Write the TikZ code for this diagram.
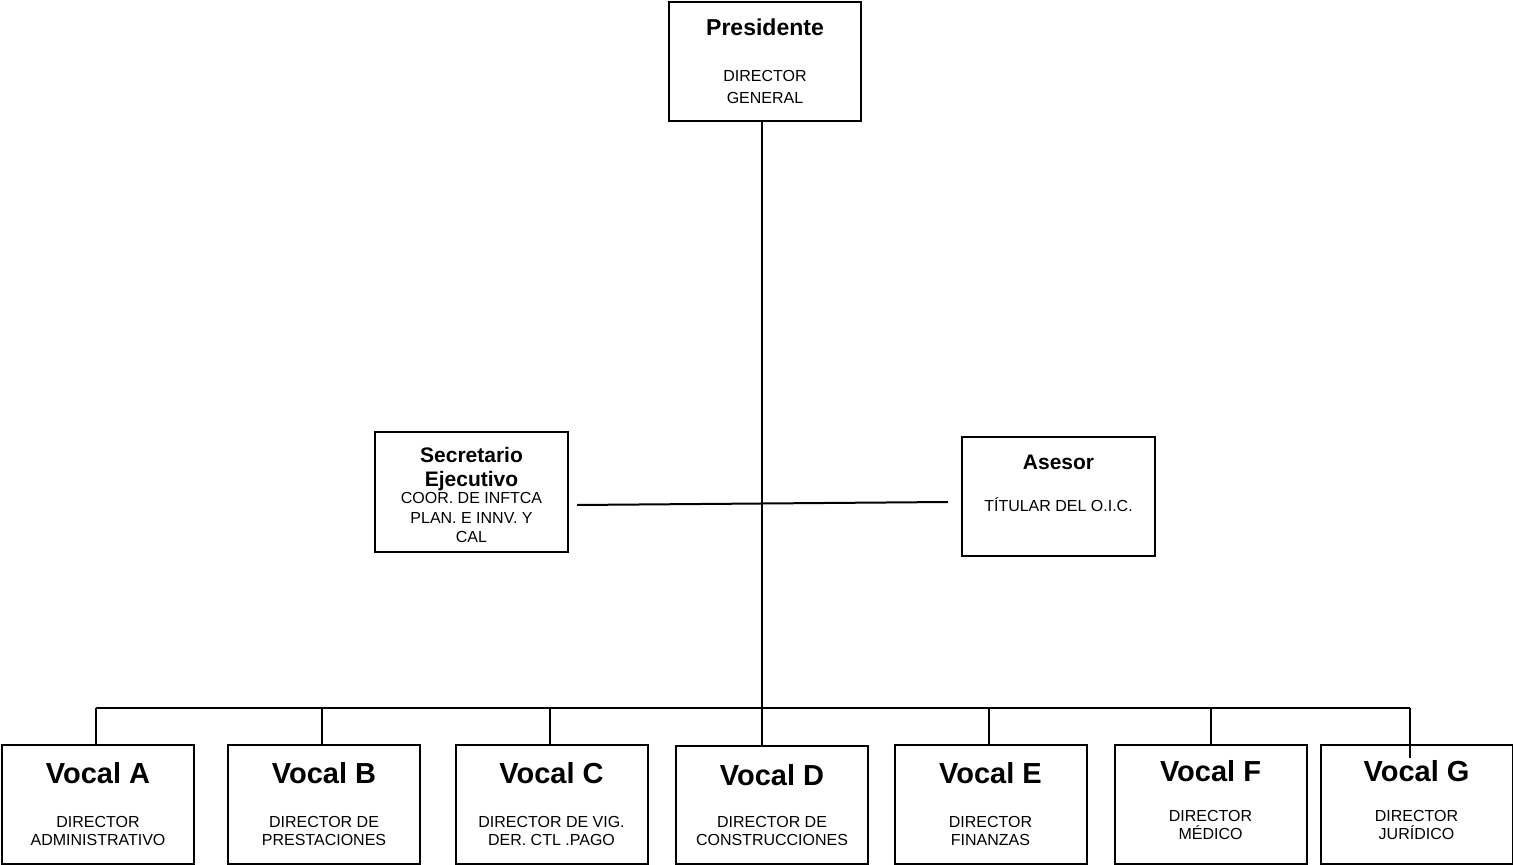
\documentclass[tikz,border=0pt]{standalone}
\usepackage{fontspec}
\setmainfont{Liberation Sans}
\usetikzlibrary{positioning}

\newcommand{\vfont}{\fontsize{14.5}{16}\selectfont\bfseries}
\newcommand{\bfont}{\fontsize{10.5}{11.5}\selectfont\bfseries}

\begin{document}
\begin{tikzpicture}[x=0.5pt, y=-0.5pt,
    orgbox/.style={rectangle, draw, line width=1pt, inner sep=0pt, align=center, font=\fontsize{8}{9}\selectfont},
    vocal/.style={orgbox, minimum width=96pt, minimum height=59.5pt},
    conn/.style={line width=1pt}]
  \useasboundingbox (0,0) rectangle (1513,865);

  \node[orgbox, minimum width=96pt, minimum height=59.5pt, font=\fontsize{8}{11}\selectfont] (pres) at (765,61.5)
    {{\fontsize{11.5}{13}\selectfont\bfseries Presidente}\\[12pt] DIRECTOR\\ GENERAL};
  \node[orgbox, minimum width=96.5pt, minimum height=60pt, font=\fontsize{8}{9.75}\selectfont] (secr) at (471.5,492)
    {{\bfont\rule{0pt}{11pt}Secretario}\\[2pt] {\bfont Ejecutivo}\\[-1pt] COOR. DE INFTCA\\ PLAN. E INNV. Y\\ CAL};
  \node[orgbox, minimum width=96.5pt, minimum height=59.5pt] (ases) at (1058.5,496.5)
    {{\bfont Asesor}\\[12pt] TÍTULAR DEL O.I.C.\\[4pt] \mbox{}};

  \node[vocal] (vA) at (98,804.5) {{\vfont Vocal A}\\[13pt] DIRECTOR\\ ADMINISTRATIVO};
  \node[vocal] (vB) at (324,804.5) {{\vfont Vocal B}\\[13pt] DIRECTOR DE\\ PRESTACIONES};
  \node[vocal] (vC) at (551.5,804.5) {{\vfont Vocal C}\\[13pt] DIRECTOR DE VIG.\\ DER. CTL .PAGO};
  \node[vocal, minimum height=59pt] (vD) at (772,805) {{\vfont Vocal D}\\[12pt] DIRECTOR DE\\ CONSTRUCCIONES};
  \node[vocal] (vE) at (990.5,804.5) {{\vfont Vocal E}\\[13pt] DIRECTOR\\ FINANZAS};
  \node[vocal] (vF) at (1210.5,804.5) {{\vfont Vocal F}\\[11pt] DIRECTOR\\ MÉDICO\\[-4pt] \mbox{}};
  \node[vocal] (vG) at (1416.5,804.5) {{\vfont Vocal G}\\[11pt] DIRECTOR\\ JURÍDICO\\[-4pt] \mbox{}};

  % trunk, side line and bus
  \coordinate (bus) at (762,708);
  \draw[conn] ([xshift=-1.5pt]pres.south) -- ([xshift=-1.5pt]pres.south |- vD.north);
  \draw[conn] ([xshift=4pt,yshift=-6.5pt]secr.east) -- ([xshift=-6.5pt,yshift=-2.75pt]ases.west);
  \draw[conn] ([xshift=-1pt]vA.north |- bus) -- ([xshift=-3.25pt]vG.north |- bus);
  \draw[conn] ([xshift=-1pt]vA.north |- bus) -- ([xshift=-1pt]vA.north);
  \draw[conn] ([xshift=-1pt]vB.north |- bus) -- ([xshift=-1pt]vB.north);
  \draw[conn] ([xshift=-1pt]vC.north |- bus) -- ([xshift=-1pt]vC.north);
  \draw[conn] ([xshift=-1pt]vE.north |- bus) -- ([xshift=-1pt]vE.north);
  \draw[conn] (vF.north |- bus) -- (vF.north);
  \draw[conn] ([xshift=-3.25pt]vG.north |- bus) -- ([xshift=-3.25pt,yshift=-7pt]vG.north);
\end{tikzpicture}
\end{document}
